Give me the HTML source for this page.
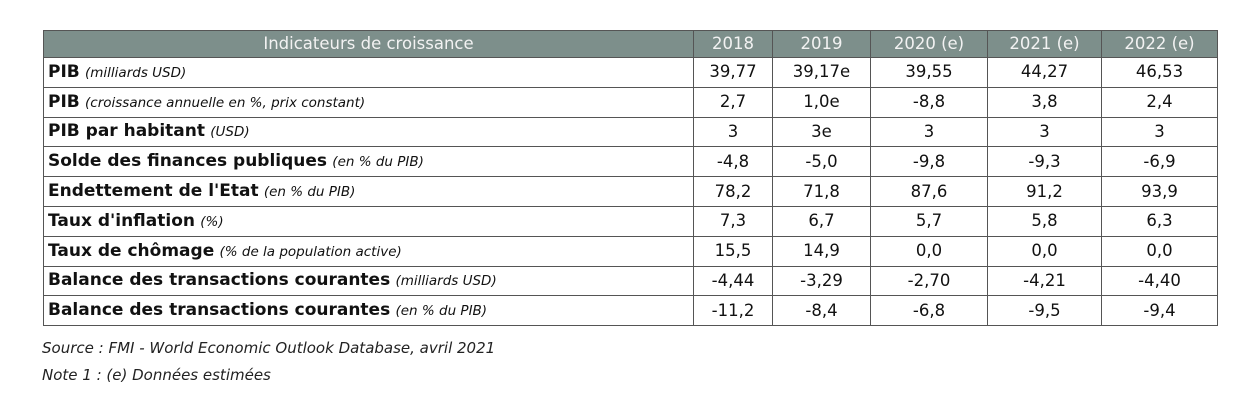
<!DOCTYPE html>
<html><head><meta charset="utf-8"><style>
body{margin:0;width:1258px;height:400px;background:#fff;font-family:"DejaVu Sans","Liberation Sans",sans-serif;color:#111;position:relative;overflow:hidden}
table{position:absolute;left:43px;top:30px;border-collapse:collapse;table-layout:fixed}
td,th{border:1.5px solid #555;padding:0;font-size:16.5px;text-align:center;white-space:nowrap;line-height:18px}
tr{height:29.8px}
tr.h{height:27px}
th{background:#7d8f8b;color:#f2f2f2;font-weight:normal;font-size:16.5px}
td.l{text-align:left;padding-left:4px}
td.l b{font-size:17px}
td.l i{font-size:13.5px}
.note{position:absolute;left:42px;font-style:italic;font-size:15px;color:#222}
</style></head><body>
<table>
<colgroup><col style="width:650px"><col style="width:79px"><col style="width:98px"><col style="width:117px"><col style="width:114px"><col style="width:116px"></colgroup>
<tr class="h"><th>Indicateurs de croissance</th><th>2018</th><th>2019</th><th>2020 (e)</th><th>2021 (e)</th><th>2022 (e)</th></tr>
<tr><td class="l"><b>PIB</b> <i>(milliards USD)</i></td><td>39,77</td><td>39,17e</td><td>39,55</td><td>44,27</td><td>46,53</td></tr>
<tr><td class="l"><b>PIB</b> <i>(croissance annuelle en %, prix constant)</i></td><td>2,7</td><td>1,0e</td><td>-8,8</td><td>3,8</td><td>2,4</td></tr>
<tr><td class="l"><b>PIB par habitant</b> <i>(USD)</i></td><td>3</td><td>3e</td><td>3</td><td>3</td><td>3</td></tr>
<tr><td class="l"><b>Solde des finances publiques</b> <i>(en % du PIB)</i></td><td>-4,8</td><td>-5,0</td><td>-9,8</td><td>-9,3</td><td>-6,9</td></tr>
<tr><td class="l"><b>Endettement de l'Etat</b> <i>(en % du PIB)</i></td><td>78,2</td><td>71,8</td><td>87,6</td><td>91,2</td><td>93,9</td></tr>
<tr><td class="l"><b>Taux d'inflation</b> <i>(%)</i></td><td>7,3</td><td>6,7</td><td>5,7</td><td>5,8</td><td>6,3</td></tr>
<tr><td class="l"><b>Taux de chômage</b> <i>(% de la population active)</i></td><td>15,5</td><td>14,9</td><td>0,0</td><td>0,0</td><td>0,0</td></tr>
<tr><td class="l"><b>Balance des transactions courantes</b> <i>(milliards USD)</i></td><td>-4,44</td><td>-3,29</td><td>-2,70</td><td>-4,21</td><td>-4,40</td></tr>
<tr><td class="l"><b>Balance des transactions courantes</b> <i>(en % du PIB)</i></td><td>-11,2</td><td>-8,4</td><td>-6,8</td><td>-9,5</td><td>-9,4</td></tr>
</table>
<div class="note" style="top:339px">Source : FMI - World Economic Outlook Database, avril 2021</div>
<div class="note" style="top:366px">Note 1 : (e) Données estimées</div>
</body></html>
